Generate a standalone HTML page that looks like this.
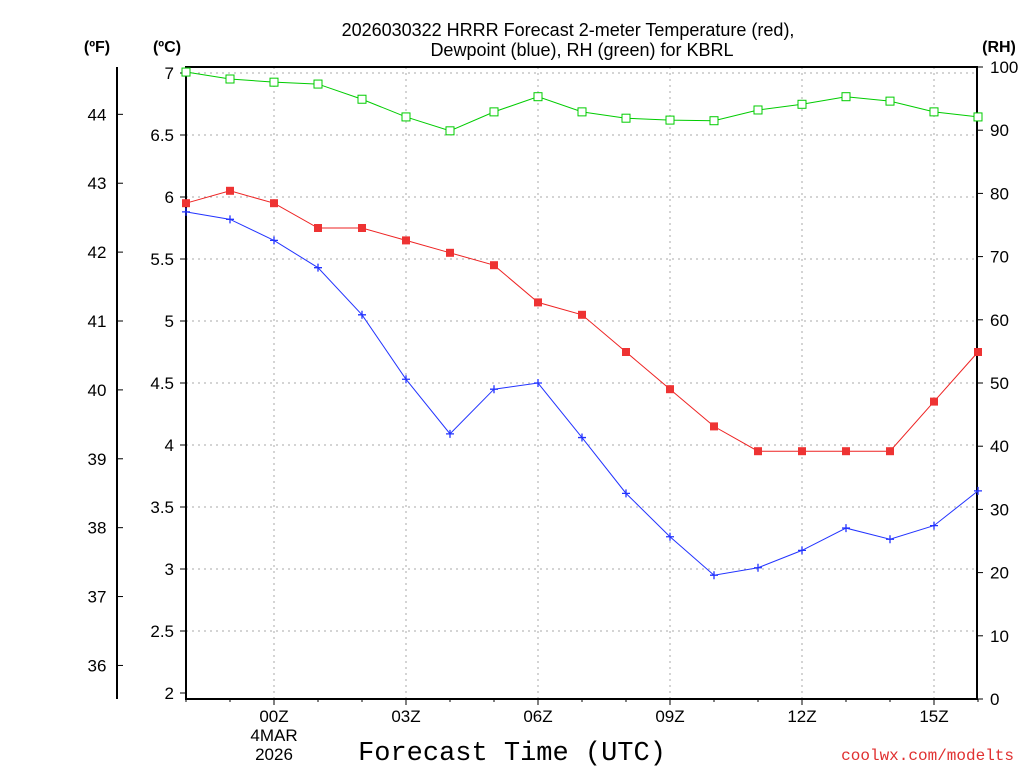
<!DOCTYPE html>
<html><head><meta charset="utf-8"><style>
body{margin:0;background:#fff;}
svg{display:block;font-family:"Liberation Sans","DejaVu Sans",sans-serif;}
</style></head><body>
<svg id="chart" width="1024" height="768">
<g id="grid"></g>
<g id="axes"></g>
<g id="series"></g>
<text x="568" y="36" text-anchor="middle" font-size="18">2026030322 HRRR Forecast 2-meter Temperature (red),</text>
<text x="582" y="56" text-anchor="middle" font-size="18">Dewpoint (blue), RH (green) for KBRL</text>
<text x="97" y="52" text-anchor="middle" font-size="16" font-weight="bold">(ºF)</text>
<text x="167" y="52" text-anchor="middle" font-size="16" font-weight="bold">(ºC)</text>
<text x="999" y="52" text-anchor="middle" font-size="16" font-weight="bold">(RH)</text>
<text x="512" y="760" text-anchor="middle" font-size="27" font-family="Liberation Mono, monospace">Forecast Time (UTC)</text>
<text x="1014" y="760" text-anchor="end" font-size="16" fill="#e03030" font-family="Liberation Mono, monospace">coolwx.com/modelts</text>
</svg>
<script>
const hours=[-2,-1,0,1,2,3,4,5,6,7,8,9,10,11,12,13,14,15,16];
const tempC=[5.95,6.05,5.95,5.75,5.75,5.65,5.55,5.45,5.15,5.05,4.75,4.45,4.15,3.95,3.95,3.95,3.95,4.35,4.75];
const dewC=[5.88,5.82,5.65,5.43,5.05,4.53,4.09,4.45,4.5,4.06,3.61,3.26,2.95,3.01,3.15,3.33,3.24,3.35,3.63];
const rh=[99.2,98.1,97.6,97.3,94.9,92.1,89.9,92.9,95.3,92.9,91.9,91.6,91.5,93.2,94.1,95.3,94.6,92.9,92.1];
const cTicks=[2,2.5,3,3.5,4,4.5,5,5.5,6,6.5,7];
const fTicks=[36,37,38,39,40,41,42,43,44];
const rhTicks=[0,10,20,30,40,50,60,70,80,90,100];
const xTicks=[0,3,6,9,12,15];
const xLabels=["00Z","03Z","06Z","09Z","12Z","15Z"];
const X0=186,X1=977,Y0=67,Y1=699;
const xs=h=>274+h*44;
const yC=c=>73+(7-c)*124;
const yF=f=>yC((f-32)*5/9);
const yR=r=>Y1-r*(Y1-Y0)/100;
const NS="http://www.w3.org/2000/svg";
function mk(p,t,a){const e=document.createElementNS(NS,t);for(const k in a)e.setAttribute(k,a[k]);p.appendChild(e);return e;}
const grid=document.getElementById('grid'),axes=document.getElementById('axes'),ser=document.getElementById('series');
cTicks.forEach(c=>{const y=yC(c);
 if(c>2){const l=mk(grid,'line',{x1:X0,x2:X1,y1:y,y2:y,stroke:'#aaa','stroke-dasharray':'2,4'});
 }
 mk(axes,'line',{x1:X0-6,x2:X0,y1:y,y2:y,stroke:'#000'});
 const t=mk(axes,'text',{x:174,y:y+6,'text-anchor':'end','font-size':17});t.textContent=c;
 });
xTicks.forEach((h,i)=>{const x=xs(h);
 const l=mk(grid,'line',{x1:x,x2:x,y1:Y0,y2:Y1,stroke:'#aaa','stroke-dasharray':'2,4'});
 
 mk(axes,'line',{x1:x,x2:x,y1:Y1,y2:Y1+6,stroke:'#000'});
 const t=mk(axes,'text',{x:x,y:722,'text-anchor':'middle','font-size':17});t.textContent=xLabels[i];
 });
for(let h=-2;h<=16;h++){mk(axes,'line',{x1:xs(h),x2:xs(h),y1:Y1,y2:Y1+3,stroke:'#000'});}
[["4MAR",741],["2026",760]].forEach(a=>{const t=mk(axes,'text',{x:274,y:a[1],'text-anchor':'middle','font-size':17});t.textContent=a[0];
 });
fTicks.forEach(f=>{const y=yF(f);mk(axes,'line',{x1:117,x2:123,y1:y,y2:y,stroke:'#000'});
 const t=mk(axes,'text',{x:97,y:y+6,'text-anchor':'middle','font-size':17});t.textContent=f;
 });
rhTicks.forEach(r=>{const y=yR(r);mk(axes,'line',{x1:X1,x2:X1+6,y1:y,y2:y,stroke:'#000'});
 const t=mk(axes,'text',{x:990,y:y+6,'font-size':17});t.textContent=r;
 });
mk(axes,'line',{x1:117,x2:117,y1:Y0,y2:Y1,stroke:'#000','stroke-width':2});
mk(axes,'rect',{x:X0,y:Y0,width:X1-X0,height:Y1-Y0,fill:'none',stroke:'#000','stroke-width':2});
function line(vals,yf,col,name){const p=mk(ser,'polyline',{points:vals.map((v,i)=>xs(hours[i])+','+yf(v)).join(' '),fill:'none',stroke:col,'stroke-width':1});
 }
line(rh,yR,'#00cc00','rh-line');line(tempC,yC,'#ee2222','temperature-line');line(dewC,yC,'#2233ff','dewpoint-line');
rh.forEach((v,i)=>{const r=mk(ser,'rect',{x:xs(hours[i])-4,y:yR(v)-4,width:8,height:8,fill:'#fff',stroke:'#00cc00'});
 });
tempC.forEach((v,i)=>{const r=mk(ser,'rect',{x:xs(hours[i])-4,y:yC(v)-4,width:8,height:8,fill:'#ee3333'});
 });
dewC.forEach((v,i)=>{const x=xs(hours[i]),y=yC(v);
 const p=mk(ser,'path',{d:`M${x-4},${y}H${x+4}M${x},${y-4}V${y+4}`,stroke:'#2233ff','stroke-width':1.3});
 });
</script>
</body></html>
